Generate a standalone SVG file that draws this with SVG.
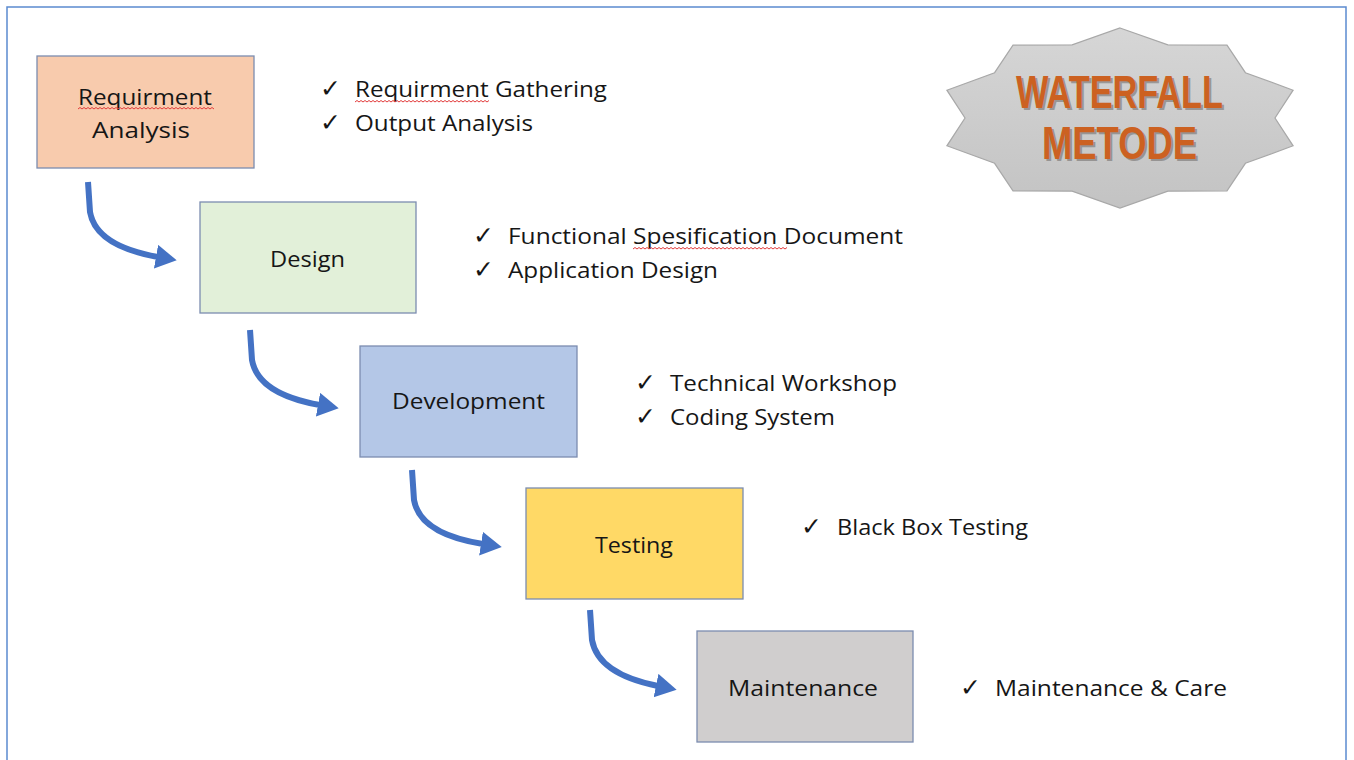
<svg xmlns="http://www.w3.org/2000/svg" width="1354" height="760" viewBox="0 0 1354 760">
<style>
.box{stroke:#7C8DB0;stroke-width:1.3}
.lbl{font-family:"Open Sans","Liberation Sans",sans-serif;font-size:22px;fill:#161616}
.chk{font-family:"DejaVu Sans",sans-serif;font-size:25px;fill:#161616}
.conn{fill:none;stroke:#4472C4;stroke-width:6;stroke-linecap:butt}
.wavy{fill:none;stroke:#E23B3B;stroke-width:1}
.ttl{font-family:"Liberation Sans",Arial,sans-serif;font-weight:bold;font-size:46px}
</style>
<defs>
<marker id="ah" markerUnits="userSpaceOnUse" markerWidth="24" markerHeight="26" refX="2" refY="12" orient="auto">
<path d="M0,0 L21,12 L0,24 Z" fill="#4472C4"/>
</marker>
<linearGradient id="sg" x1="0" y1="0" x2="0" y2="1">
<stop offset="0" stop-color="#D6D6D6"/>
<stop offset="1" stop-color="#C3C3C3"/>
</linearGradient>
</defs>
<rect x="0" y="0" width="1354" height="760" fill="#ffffff"/>
<rect x="7" y="7" width="1339" height="800" fill="none" stroke="#5B8BD0" stroke-width="1.5"/>

<g id="title">
<polygon points="1120,28 1167.9,44.8 1227,45.2 1245.4,72.7 1293.1,90.2 1275,118 1293.1,145.8 1245.4,163.3 1227,190.8 1167.9,191.2 1120,208 1072.1,191.2 1013,190.8 994.6,163.3 946.9,145.8 965,118 946.9,90.2 994.6,72.7 1013,45.2 1072.1,44.8" fill="url(#sg)" stroke="#A8A8A8" stroke-width="1.2"/>
<text class="ttl" x="1018" y="110" textLength="207" lengthAdjust="spacingAndGlyphs" fill="#6E6A68" opacity="0.55">WATERFALL</text>
<text class="ttl" x="1016" y="108" textLength="207" lengthAdjust="spacingAndGlyphs" fill="#CC6121">WATERFALL</text>
<text class="ttl" x="1044" y="161" textLength="155" lengthAdjust="spacingAndGlyphs" fill="#6E6A68" opacity="0.55">METODE</text>
<text class="ttl" x="1042" y="159" textLength="155" lengthAdjust="spacingAndGlyphs" fill="#CC6121">METODE</text>
</g>

<g id="connectors">
<path class="conn" d="M88,182 L90,212 Q96,246 158,257" marker-end="url(#ah)"/>
<path class="conn" d="M250,330 L252,360 Q258,394 320,405" marker-end="url(#ah)"/>
<path class="conn" d="M412,470 L414,500 Q420,534 483,544" marker-end="url(#ah)"/>
<path class="conn" d="M590,610 L592,640 Q598,674 658,686" marker-end="url(#ah)"/>
</g>

<g id="node-requirment">
<rect class="box" x="37" y="56" width="217" height="112" fill="#F8CBAD"/>
<text class="lbl" x="78" y="105" textLength="134" lengthAdjust="spacingAndGlyphs">Requirment</text>
<path class="wavy" d="M78,109 l2,-1.5 l2,1.5 l2,-1.5 l2,1.5 l2,-1.5 l2,1.5 l2,-1.5 l2,1.5 l2,-1.5 l2,1.5 l2,-1.5 l2,1.5 l2,-1.5 l2,1.5 l2,-1.5 l2,1.5 l2,-1.5 l2,1.5 l2,-1.5 l2,1.5 l2,-1.5 l2,1.5 l2,-1.5 l2,1.5 l2,-1.5 l2,1.5 l2,-1.5 l2,1.5 l2,-1.5 l2,1.5 l2,-1.5 l2,1.5 l2,-1.5 l2,1.5 l2,-1.5 l2,1.5 l2,-1.5 l2,1.5 l2,-1.5 l2,1.5 l2,-1.5 l2,1.5 l2,-1.5 l2,1.5 l2,-1.5 l2,1.5 l2,-1.5 l2,1.5 l2,-1.5 l2,1.5 l2,-1.5 l2,1.5 l2,-1.5 l2,1.5 l2,-1.5 l2,1.5 l2,-1.5 l2,1.5 l2,-1.5 l2,1.5 l2,-1.5 l2,1.5 l2,-1.5 l2,1.5 l2,-1.5 l2,1.5 l2,-1.5 l2,1.5"/>
<text class="lbl" x="92" y="138" textLength="98" lengthAdjust="spacingAndGlyphs">Analysis</text>
</g>

<g id="node-design">
<rect class="box" x="200" y="202" width="216" height="111" fill="#E2F0D9"/>
<text class="lbl" x="270" y="267" textLength="75" lengthAdjust="spacingAndGlyphs">Design</text>
</g>

<g id="node-development">
<rect class="box" x="360" y="346" width="217" height="111" fill="#B4C7E7"/>
<text class="lbl" x="392" y="409" textLength="153" lengthAdjust="spacingAndGlyphs">Development</text>
</g>

<g id="node-testing">
<rect class="box" x="526" y="488" width="217" height="111" fill="#FFD966"/>
<text class="lbl" x="595" y="553" textLength="78" lengthAdjust="spacingAndGlyphs">Testing</text>
</g>

<g id="node-maintenance">
<rect class="box" x="697" y="631" width="216" height="111" fill="#D0CECE"/>
<text class="lbl" x="728" y="696" textLength="150" lengthAdjust="spacingAndGlyphs">Maintenance</text>
</g>

<g id="notes-requirment">
<text class="chk" x="320" y="97">✓</text>
<text class="lbl" x="355" y="97" textLength="252" lengthAdjust="spacingAndGlyphs">Requirment Gathering</text>
<path class="wavy" d="M355,102 l2,-1.5 l2,1.5 l2,-1.5 l2,1.5 l2,-1.5 l2,1.5 l2,-1.5 l2,1.5 l2,-1.5 l2,1.5 l2,-1.5 l2,1.5 l2,-1.5 l2,1.5 l2,-1.5 l2,1.5 l2,-1.5 l2,1.5 l2,-1.5 l2,1.5 l2,-1.5 l2,1.5 l2,-1.5 l2,1.5 l2,-1.5 l2,1.5 l2,-1.5 l2,1.5 l2,-1.5 l2,1.5 l2,-1.5 l2,1.5 l2,-1.5 l2,1.5 l2,-1.5 l2,1.5 l2,-1.5 l2,1.5 l2,-1.5 l2,1.5 l2,-1.5 l2,1.5 l2,-1.5 l2,1.5 l2,-1.5 l2,1.5 l2,-1.5 l2,1.5 l2,-1.5 l2,1.5 l2,-1.5 l2,1.5 l2,-1.5 l2,1.5 l2,-1.5 l2,1.5 l2,-1.5 l2,1.5 l2,-1.5 l2,1.5 l2,-1.5 l2,1.5 l2,-1.5 l2,1.5 l2,-1.5 l2,1.5 l2,-1.5"/>
<text class="chk" x="320" y="131">✓</text>
<text class="lbl" x="355" y="131" textLength="178" lengthAdjust="spacingAndGlyphs">Output Analysis</text>
</g>

<g id="notes-design">
<text class="chk" x="473" y="244">✓</text>
<text class="lbl" x="508" y="244" textLength="395" lengthAdjust="spacingAndGlyphs">Functional Spesification Document</text>
<path class="wavy" d="M633,249 l2,-1.5 l2,1.5 l2,-1.5 l2,1.5 l2,-1.5 l2,1.5 l2,-1.5 l2,1.5 l2,-1.5 l2,1.5 l2,-1.5 l2,1.5 l2,-1.5 l2,1.5 l2,-1.5 l2,1.5 l2,-1.5 l2,1.5 l2,-1.5 l2,1.5 l2,-1.5 l2,1.5 l2,-1.5 l2,1.5 l2,-1.5 l2,1.5 l2,-1.5 l2,1.5 l2,-1.5 l2,1.5 l2,-1.5 l2,1.5 l2,-1.5 l2,1.5 l2,-1.5 l2,1.5 l2,-1.5 l2,1.5 l2,-1.5 l2,1.5 l2,-1.5 l2,1.5 l2,-1.5 l2,1.5 l2,-1.5 l2,1.5 l2,-1.5 l2,1.5 l2,-1.5 l2,1.5 l2,-1.5 l2,1.5 l2,-1.5 l2,1.5 l2,-1.5 l2,1.5 l2,-1.5 l2,1.5 l2,-1.5 l2,1.5 l2,-1.5 l2,1.5 l2,-1.5 l2,1.5 l2,-1.5 l2,1.5 l2,-1.5 l2,1.5 l2,-1.5 l2,1.5 l2,-1.5 l2,1.5 l2,-1.5 l2,1.5 l2,-1.5 l2,1.5 l2,-1.5"/>
<text class="chk" x="473" y="278">✓</text>
<text class="lbl" x="508" y="278" textLength="210" lengthAdjust="spacingAndGlyphs">Application Design</text>
</g>

<g id="notes-development">
<text class="chk" x="635" y="391">✓</text>
<text class="lbl" x="670" y="391" textLength="227" lengthAdjust="spacingAndGlyphs">Technical Workshop</text>
<text class="chk" x="635" y="425">✓</text>
<text class="lbl" x="670" y="425" textLength="165" lengthAdjust="spacingAndGlyphs">Coding System</text>
</g>

<g id="notes-testing">
<text class="chk" x="801" y="535">✓</text>
<text class="lbl" x="837" y="535" textLength="191" lengthAdjust="spacingAndGlyphs">Black Box Testing</text>
</g>

<g id="notes-maintenance">
<text class="chk" x="960" y="696">✓</text>
<text class="lbl" x="995" y="696" textLength="232" lengthAdjust="spacingAndGlyphs">Maintenance &amp; Care</text>
</g>
</svg>
